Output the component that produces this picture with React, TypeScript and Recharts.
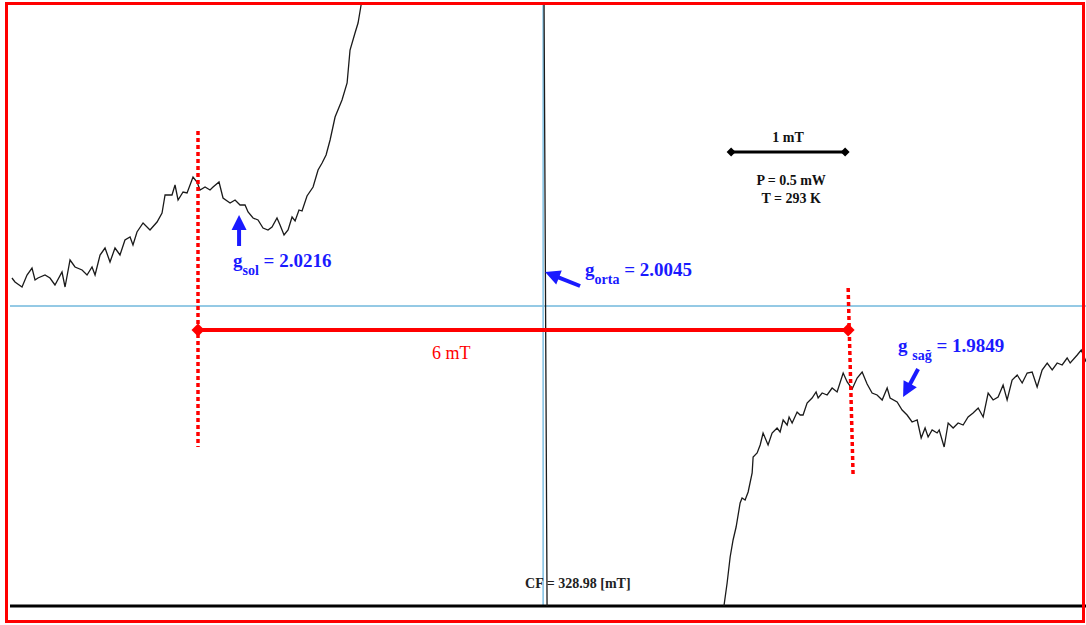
import React from "react";
import { LineChart, Line, XAxis, YAxis, ReferenceLine, ReferenceDot } from "recharts";

// EPR spectrum, magnetic field in mT, intensity in arbitrary units
const leftField = [
  324.078, 324.106, 324.171, 324.217, 324.263, 324.291, 324.318, 324.383, 324.429, 324.475,
  324.54, 324.568, 324.614, 324.66, 324.725, 324.771, 324.817, 324.845, 324.891, 324.937,
  324.983, 325.029, 325.075, 325.121, 325.168, 325.195, 325.232, 325.288, 325.352, 325.417,
  325.463, 325.491, 325.555, 325.583, 325.611, 325.657, 325.694, 325.749, 325.786, 325.814,
  325.86, 325.906, 325.934, 325.989, 326.026, 326.091, 326.137, 326.183, 326.229, 326.257,
  326.303, 326.349, 326.395, 326.441, 326.478, 326.524, 326.552, 326.589, 326.626, 326.663,
  326.691, 326.727, 326.755, 326.801, 326.857, 326.903, 326.94, 326.977, 327.014, 327.06,
  327.124, 327.171, 327.198, 327.244, 327.272, 327.3,
];
const leftSignal = [
  28, 24, 19, 31, 38, 26, 28, 31, 28, 21,
  34, 19, 46, 39, 36, 31, 39, 31, 51, 58,
  44, 58, 51, 66, 69, 61, 74, 83, 76, 84,
  93, 111, 111, 121, 106, 114, 113, 129, 124, 116,
  119, 116, 119, 124, 108, 103, 106, 101, 101, 94,
  88, 86, 78, 76, 79, 88, 81, 71, 76, 89,
  85, 96, 95, 110, 119, 136, 143, 151, 166, 189,
  206, 223, 256, 273, 283, 301,
];

// central line, goes off scale at both ends
const centreField = [327.383, 327.66, 328.121, 328.841, 328.984, 329.021, 329.137, 329.967, 330.429, 330.567];
const centreSignal = [380, 700, 1000, 1100, 400, -400, -1100, -1000, -700, -500];

const rightField = [
  330.65, 330.678, 330.706, 330.733, 330.761, 330.798, 330.816, 330.844, 330.872, 330.909,
  330.918, 330.955, 330.983, 331.01, 331.056, 331.093, 331.139, 331.167, 331.195, 331.232,
  331.25, 331.278, 331.324, 331.352, 331.379, 331.416, 331.462, 331.499, 331.518, 331.555,
  331.601, 331.647, 331.693, 331.749, 331.786, 331.832, 331.878, 331.924, 331.97, 332.016,
  332.062, 332.109, 332.155, 332.182, 332.247, 332.293, 332.339, 332.385, 332.432, 332.469,
  332.505, 332.533, 332.57, 332.616, 332.635, 332.681, 332.718, 332.764, 332.81, 332.856,
  332.902, 332.948, 332.995, 333.041, 333.087, 333.133, 333.179, 333.225, 333.262, 333.308,
  333.355, 333.401, 333.447, 333.493, 333.539, 333.585, 333.632, 333.678, 333.724, 333.77,
  333.816, 333.844, 333.909, 333.946, 333.992,
];
const rightSignal = [
  -299, -277, -251, -234, -221, -197, -192, -194, -186, -167,
  -151, -147, -139, -127, -139, -127, -122, -126, -114, -119,
  -111, -117, -106, -109, -109, -97, -92, -86, -92, -87,
  -89, -82, -86, -67, -76, -83, -72, -66, -78, -87,
  -89, -94, -82, -92, -96, -104, -109, -116, -114, -132,
  -122, -131, -124, -127, -124, -141, -117, -122, -117, -119,
  -111, -107, -102, -111, -87, -94, -91, -79, -94, -74,
  -69, -77, -67, -66, -81, -64, -57, -64, -57, -59,
  -52, -57, -49, -44, -56,
];

// annotations
const centerField = 328.98;
const gSymbols = ["g", "g", "g "];
const gSubs = ["sol", "orta", "sağ"];
const gValues = ["2.0216", "2.0045", "1.9849"];
const gTextField = [326.118, 329.367, 332.256];
const gTextSignal = [39, 30, -46];
const gArrowField = [326.174, 328.998, 332.302];
const gArrowSignal = [91, 34, -91];
const gArrowTail = [
  [0, 31],
  [35, 14],
  [15, -28],
];
const markerFields = [325.795, 331.795];
const spanLabel = "6 mT";
const scaleBarFields = [330.715, 331.767];
const scaleLabel = "1 mT";
const conditions = ["P = 0.5 mW", "T = 293 K"];

const fieldAll = [...leftField, ...centreField, ...rightField];
const signalAll = [...leftSignal, ...centreSignal, ...rightSignal];
const data = fieldAll.map((f, i) => ({ field: f, signal: signalAll[i] }));

const BLUE = "#1a1aff";
const RED = "#ff0000";
const SERIF = "'Liberation Serif', 'DejaVu Serif', serif";

const diamond = (size: number, fill: string) => (p: any) => (
  <path
    d={`M${p.cx - size},${p.cy} L${p.cx},${p.cy - size} L${p.cx + size},${p.cy} L${p.cx},${p.cy + size} Z`}
    fill={fill}
  />
);

const arrow = (dx: number, dy: number) => (p: any) => {
  const len = Math.hypot(dx, dy);
  const ux = dx / len;
  const uy = dy / len;
  const head = 15;
  const half = 7.5;
  const bx = p.cx + ux * head;
  const by = p.cy + uy * head;
  return (
    <g>
      <line x1={bx - ux * 2} y1={by - uy * 2} x2={p.cx + dx} y2={p.cy + dy} stroke={BLUE} strokeWidth={4} />
      <polygon
        points={`${p.cx},${p.cy} ${bx - uy * half},${by + ux * half} ${bx + uy * half},${by - ux * half}`}
        fill={BLUE}
      />
    </g>
  );
};

const gText = (i: number) => (p: any) => (
  <text x={p.cx} y={p.cy} fill={BLUE} fontFamily={SERIF} fontWeight="bold" fontSize={19}>
    <tspan>{gSymbols[i]}</tspan>
    <tspan fontSize={14} dy={8}>{gSubs[i]}</tspan>
    <tspan dy={-8}>{` = ${gValues[i]}`}</tspan>
  </text>
);

const plainText = (lines: string[], size: number, fill: string, weight: string, anchor: string, dx = 0) =>
  (p: any) => (
    <text x={p.cx + dx} y={p.cy} fill={fill} fontFamily={SERIF} fontWeight={weight} fontSize={size} textAnchor={anchor}>
      {lines.map((l, k) => (
        <tspan key={k} x={p.cx + dx} dy={k === 0 ? 0 : 18}>
          {l}
        </tspan>
      ))}
    </text>
  );

export default function App() {
  return (
    <div style={{ position: "absolute", left: 0, top: 0, width: 1086, height: 625, background: "#fff" }}>
      <LineChart width={1086} height={625} data={data} margin={{ top: 4, right: 0, bottom: 19, left: 10 }}>
        <XAxis type="number" dataKey="field" domain={[324.06, 333.99]} allowDataOverflow hide />
        <YAxis type="number" domain={[-300, 302]} allowDataOverflow hide />
        <ReferenceLine y={0} stroke="#2b94cb" strokeWidth={1} />
        <ReferenceLine x={centerField} stroke="#7fc0e4" strokeWidth={1.5} />
        <ReferenceLine y={-300} stroke="#000" strokeWidth={3} />
        <Line
          type="linear"
          dataKey="signal"
          stroke="#1a1a1a"
          strokeWidth={1.3}
          dot={false}
          isAnimationActive={false}
        />
        {/* red dotted marker lines */}
        <ReferenceLine
          segment={[{ x: markerFields[0], y: 175 }, { x: markerFields[0], y: -141 }]}
          stroke={RED}
          strokeWidth={3.5}
          strokeDasharray="4 3"
        />
        <ReferenceLine
          segment={[{ x: markerFields[1], y: 18 }, { x: 331.841, y: -171 }]}
          stroke={RED}
          strokeWidth={3.5}
          strokeDasharray="4 3"
        />
        {/* 6 mT span */}
        <ReferenceLine
          segment={[{ x: markerFields[0], y: -24 }, { x: markerFields[1], y: -24 }]}
          stroke={RED}
          strokeWidth={4}
        />
        <ReferenceDot x={markerFields[0]} y={-24} r={0} shape={diamond(6.5, RED)} />
        <ReferenceDot x={markerFields[1]} y={-24} r={0} shape={diamond(6.5, RED)} />
        <ReferenceDot x={328.131} y={-53} r={0} shape={plainText([spanLabel], 18, RED, "normal", "middle")} />
        {/* 1 mT scale bar */}
        <ReferenceLine
          segment={[{ x: scaleBarFields[0], y: 154 }, { x: scaleBarFields[1], y: 154 }]}
          stroke="#000"
          strokeWidth={3}
        />
        <ReferenceDot x={scaleBarFields[0]} y={154} r={0} shape={diamond(4.5, "#000")} />
        <ReferenceDot x={scaleBarFields[1]} y={154} r={0} shape={diamond(4.5, "#000")} />
        <ReferenceDot x={331.241} y={164} r={0} shape={plainText([scaleLabel], 14, "#111", "bold", "middle")} />
        <ReferenceDot x={331.269} y={121} r={0} shape={plainText(conditions, 14, "#111", "bold", "middle")} />
        <ReferenceDot
          x={centerField}
          y={-282}
          r={0}
          shape={plainText([`CF = ${centerField} [mT]`], 14, "#222", "bold", "start", -18)}
        />
        {/* g value arrows and labels */}
        {gSubs.map((_, i) => (
          <ReferenceDot
            key={`a${i}`}
            x={gArrowField[i]}
            y={gArrowSignal[i]}
            r={0}
            shape={arrow(gArrowTail[i][0], gArrowTail[i][1])}
          />
        ))}
        {gSubs.map((_, i) => (
          <ReferenceDot key={`t${i}`} x={gTextField[i]} y={gTextSignal[i]} r={0} shape={gText(i)} />
        ))}
      </LineChart>
      <div
        style={{
          position: "absolute",
          left: 5,
          top: 2,
          width: 1080,
          height: 621,
          boxSizing: "border-box",
          border: "3.5px solid #ff0000",
          pointerEvents: "none",
        }}
      />
    </div>
  );
}
